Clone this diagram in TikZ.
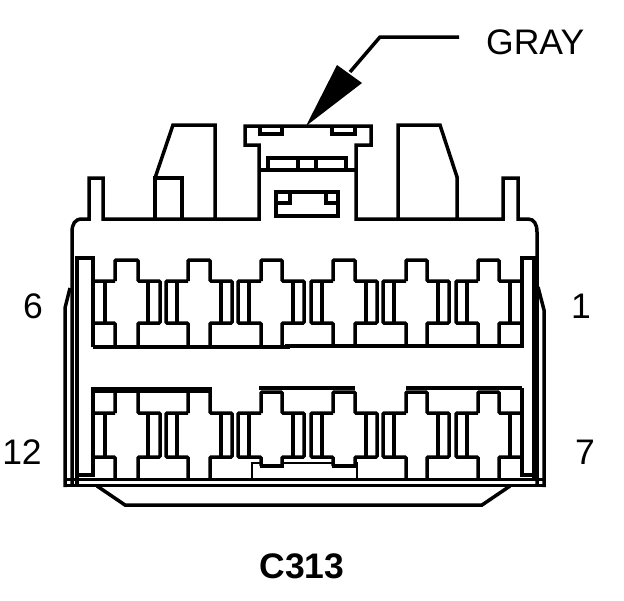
\documentclass[tikz,border=0pt]{standalone}
\usepackage{fontspec}
\setmainfont{Liberation Sans}
\tikzset{
  px/.style={x=1pt,y=-1pt},
  ln/.style={line width=3.5pt,line join=miter,line cap=butt,black},
  base ln/.style={ln,line width=2.8pt},
  lab/.style={inner sep=0pt,font=\fontsize{35.5}{36}\selectfont,text=black},
}
\newcommand{\contactshape}[4]{%
  \draw[ln,rounded corners=1pt] (\xc,#2) -- (\xc,#1) -- (\xd,#1) -- (\xd,#2) -- (\xf,#2) -- (\xf,#3) -- (\xd,#3) -- (\xd,#4);
  \draw[ln,rounded corners=1pt] (\xc,#4) -- (\xc,#3) -- (\xa,#3) -- (\xa,#2) -- (\xc,#2);
  \draw[ln,line width=4pt] (\xb,#2) -- (\xb,#3) (\xe,#2) -- (\xe,#3);
}
\begin{document}
\begin{tikzpicture}[px]
\useasboundingbox (0,0) rectangle (624,600);
% housing outline
\draw[ln] (72,485) -- (72,232) .. controls (72,224) and (75,219) .. (82,219) -- (89,219) -- (89,178) -- (103,178) -- (103,219) -- (259,219) -- (259,145) -- (245,145) -- (245,126) -- (371,126) -- (371,145) -- (356,145) -- (356,219) -- (503,219) -- (503,178) -- (518,178) -- (518,219) -- (528,219) .. controls (534,219) and (537,224) .. (537,232) -- (537,485);
% side towers
\draw[ln] (155,219) -- (155,178) -- (182,178) -- (182,219);
\draw[ln] (155,178) -- (173,125) -- (215,125) -- (215,219);
\draw[ln] (398,219) -- (398,125) -- (440,125) -- (457,177) -- (457,219);
% latch
\draw[ln] (260,126) -- (260,134) -- (282,134) -- (282,126);
\draw[ln] (332,126) -- (332,134) -- (355,134) -- (355,126);
\draw[ln] (259,170) -- (356,170);
\draw[ln] (268,170) -- (268,158) -- (346,158) -- (346,170);
\draw[ln] (298,158) -- (298,170) (316,158) -- (316,170);
\draw[ln] (276,192) rectangle (338,216);
\draw[ln] (276,203) -- (290,203) -- (290,192);
\draw[ln] (338,203) -- (326,203) -- (326,192);
% arrow
\coordinate (leadA) at (459,37);
\coordinate (leadB) at (380,37);
\coordinate (leadC) at (350,72);
\draw[ln] (leadA) -- (leadB) -- (leadC);
\fill[black] (306,126) -- (337,65) -- (362,83) -- cycle;
% inner frame
\draw[ln] (93,347) -- (93,258) -- (77,258) -- (77,475) -- (93,475) -- (93,389) -- (212,389);
\draw[ln] (93,391) -- (212,391);
\draw[ln] (93,347) -- (290,347);
\draw[ln] (285,346) -- (522,346) -- (522,258) -- (537,258);
\draw[ln] (522,388) -- (406,388);
\draw[ln] (522,388) -- (522,475) -- (537,475);
\draw[ln] (259,388) -- (355,388);
% contacts, upper row
\foreach \xa/\xb/\xc/\xd/\xe/\xf in {93/105/115/138/148/160,166/177/188/210/221/232,238/249/261/282/293/304,311/322/333/355/366/377,383/394/406/427/438/449,456/467/478/499/510/522}
  {\contactshape{260}{281}{323}{347}}
% contacts, lower row
\foreach \xa/\xb/\xc/\xd/\xe/\xf in {93/105/115/138/148/160,166/177/188/210/221/232}
  {\contactshape{390}{413}{457}{478}}
\foreach \xa/\xb/\xc/\xd/\xe/\xf in {383/394/406/427/438/449,456/467/478/499/510/522}
  {\contactshape{392}{413}{457}{478}}
\foreach \xa/\xb/\xc/\xd/\xe/\xf in {238/249/261/282/293/304,311/322/333/355/366/377}
  {\contactshape{392}{413}{457}{466}
   \draw[ln,line width=4.5pt] (\xc-1.5,466) -- (\xd+1.5,466);}
\draw[base ln] (252,478) -- (252,463) -- (261,463) (282,463) -- (333,463) (355,463) -- (357,463) -- (357,478);
% side walls
\draw[ln] (70,288) -- (65,308) -- (65,487);
\draw[ln] (538,287) -- (544,310) -- (544,487);
\draw[ln,line width=4pt] (534,258) -- (534,480);
\draw[ln] (77,475) -- (77,487);
% base lines
\draw[base ln] (64,479.5) -- (546,479.5);
\draw[base ln] (64,485.5) -- (546,485.5);
% tray
\draw[ln] (97,486) -- (125,505) -- (482,505) -- (510,486);
% labels
\node[lab,anchor=base west] (gray) at (486,54) {GRAY};
\node[lab,anchor=base] (six) at (33,318) {6};
\node[lab,anchor=base] (one) at (581,318) {1};
\node[lab,anchor=base] (twelve) at (22,464) {12};
\node[lab,anchor=base] (seven) at (585,464) {7};
\node[lab,anchor=base,font=\fontsize{35.5}{36}\selectfont\bfseries] (conn) at (302,578) {C313};
\end{tikzpicture}
\end{document}
